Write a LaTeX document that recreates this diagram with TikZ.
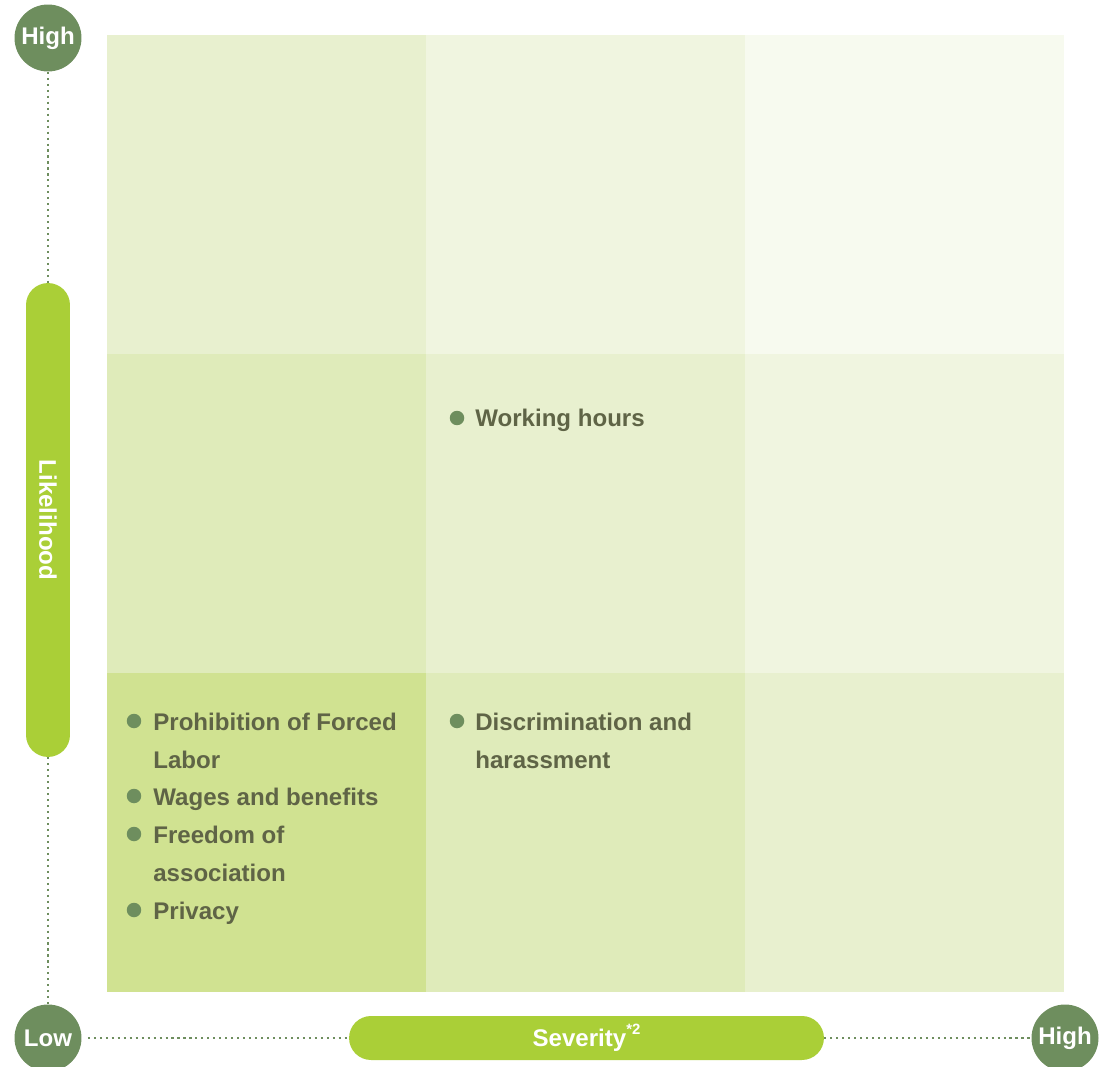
\documentclass[tikz,border=0pt]{standalone}
\usepackage{fontspec}
\setmainfont{Liberation Sans}
\usetikzlibrary{positioning}

\definecolor{axisgreen}{HTML}{6E8E5E}
\definecolor{barlime}{HTML}{AACF37}
\definecolor{itemtext}{HTML}{5F6446}
\definecolor{shadeA}{HTML}{F7FAEF}
\definecolor{shadeB}{HTML}{F0F5E0}
\definecolor{shadeC}{HTML}{E8F0CF}
\definecolor{shadeD}{HTML}{DFEBBA}
\definecolor{shadeE}{HTML}{D0E291}

\begin{document}
\begin{tikzpicture}[
  x=0.02cm, y=-0.02cm,
  every node/.style={font=\fontsize{13.7}{21.6}\selectfont\bfseries},
  cell/.style={rectangle, minimum width=6.39cm, minimum height=6.39cm, inner sep=0pt, anchor=north west},
  endcap/.style={circle, fill=axisgreen, text=white, minimum size=1.34cm, inner sep=0pt},
  axisbar/.style={rectangle, rounded corners=0.44cm, fill=barlime, text=white, inner sep=0pt},
  bullet/.style={circle, fill=axisgreen, minimum size=0.29cm, inner sep=0pt},
  item/.style={text=itemtext, align=left, inner sep=0pt, anchor=base west},
  guide/.style={axisgreen, line width=1.2pt, dash pattern=on 1.2pt off 2.2pt}
]
\useasboundingbox (0,0) rectangle (1099,1067);

% risk matrix
\foreach \row/\col/\shade in {0/0/shadeC, 0/1/shadeB, 0/2/shadeA,
                             1/0/shadeD, 1/1/shadeC, 1/2/shadeB,
                             2/0/shadeE, 2/1/shadeD, 2/2/shadeC}
  \node[cell, fill=\shade] (cell-\row-\col) at ({107+318.7*\col},{35+318.7*\row}) {};

% axis ends and bars
\node[endcap] (likeHigh) at (48,38) {High};
\node[endcap] (likeLow) at (48,1038) {Low};
\node[endcap] (sevHigh) at (1065,1038) {High};
\node[axisbar, minimum width=0.88cm, minimum height=9.48cm] (likeBar) at (48,520) {};
\node[rotate=-90, text=white] (likeLabel) at (likeBar.center) {Likelihood};
\node[axisbar, minimum width=9.5cm, minimum height=0.88cm] (sevBar) at (586.5,1038) {Severity\raisebox{0.9ex}{\fontsize{8.5}{10}\selectfont *2}};

\draw[guide] (likeHigh.south) -- (likeBar.north);
\draw[guide] (likeBar.south) -- (likeLow.north);
\draw[guide] ([xshift=0.12cm]likeLow.east) -- (sevBar.west);
\draw[guide] (sevBar.east) -- (sevHigh.west);

% issues
\node[bullet] (dotHours) at (457,418) {};
\node[item] (hours) at (475,427) {Working hours};
\node[bullet] (dotDiscr) at (457,721) {};
\node[item] (discr) at (475,768) {Discrimination and\\harassment};
\node[bullet] (dotForced) at (134,721) {};
\node[item] (forced) at (153,768) {Prohibition of Forced\\Labor};
\node[bullet] (dotWages) at (134,796) {};
\node[item] (wages) at (153,805) {Wages and benefits};
\node[bullet] (dotAssoc) at (134,834) {};
\node[item] (assoc) at (153,881) {Freedom of\\association};
\node[bullet] (dotPrivacy) at (134,910) {};
\node[item] (privacy) at (153,919) {Privacy};
\end{tikzpicture}
\end{document}
